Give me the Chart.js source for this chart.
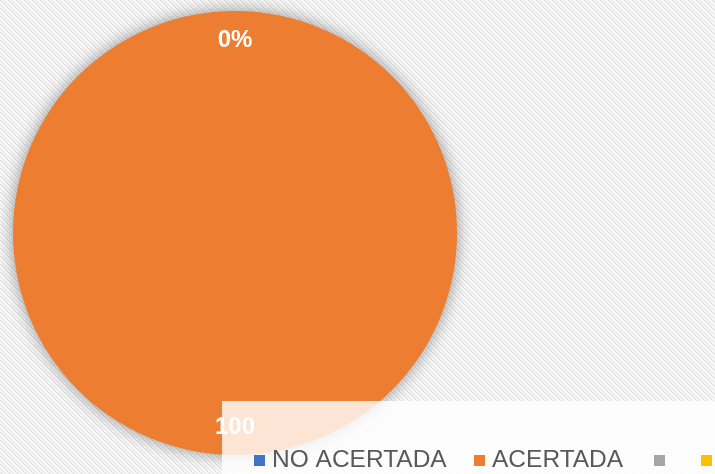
<!DOCTYPE html>
<html>
<head>
<meta charset="utf-8">
<script src="https://cdn.jsdelivr.net/npm/chart.js"></script>
<style>
  html, body { margin: 0; padding: 0; background: #ffffff; }
  #wrap { width: 715px; height: 474px; position: relative; }
</style>
</head>
<body>
<div id="wrap"><canvas id="pie_Chart" width="715" height="474"></canvas></div>
<script>
// data
var labels = ['NO ACERTADA', 'ACERTADA', '', ''];
var values = [0, 100, 0, 0];
var pctLabels = ['0%', '100', '0%', '0%'];
var colors = ['#4472C4', '#ED7D31', '#A5A5A5', '#FFC000'];

// carbon-like diagonal texture for the background
function makePattern(ctx) {
  var c = document.createElement('canvas');
  c.width = 8; c.height = 8;
  var p = c.getContext('2d');
  p.fillStyle = '#f8f8f8';
  p.fillRect(0, 0, 8, 8);
  p.fillStyle = '#e3e3e3';
  for (var i = 0; i < 8; i++) {
    p.fillRect(i, i, 2, 1);
    p.fillRect((i + 4) % 8, i, 1, 1);
  }
  return ctx.createPattern(c, 'repeat');
}

var bgPlugin = {
  id: 'bgTexture',
  beforeDraw: function(chart) {
    var ctx = chart.ctx;
    ctx.save();
    ctx.fillStyle = makePattern(ctx);
    ctx.fillRect(0, 0, chart.width, chart.height);
    ctx.restore();
  },
  beforeDatasetsDraw: function(chart) {
    var ctx = chart.ctx;
    ctx.save();
    ctx.shadowColor = 'rgba(0,0,0,0.4)';
    ctx.shadowBlur = 16;
  },
  afterDatasetsDraw: function(chart) {
    var ctx = chart.ctx;
    ctx.restore();

    // semi transparent legend panel
    ctx.save();
    ctx.fillStyle = 'rgba(255,255,255,0.8)';
    ctx.fillRect(222, 401, chart.width - 222, chart.height - 401);
    ctx.restore();

    // slice labels
    var meta = chart.getDatasetMeta(0);
    ctx.save();
    ctx.font = 'bold 24px "Liberation Sans", Arial, sans-serif';
    ctx.fillStyle = '#ffffff';
    ctx.textAlign = 'center';
    ctx.textBaseline = 'middle';
    var done = {};
    meta.data.forEach(function(arc, i) {
      var mid = (arc.startAngle + arc.endAngle) / 2;
      var r = arc.outerRadius * 0.87;
      var x = arc.x + Math.cos(mid) * r;
      var y = arc.y + Math.sin(mid) * r;
      var key = Math.round(x) + ',' + Math.round(y);
      if (done[key]) return;
      done[key] = true;
      ctx.fillText(pctLabels[i], x, y + 1);
    });
    ctx.restore();

    // legend
    var xs = [254, 474, 654, 701];
    ctx.save();
    ctx.font = '24.5px "Liberation Sans", Arial, sans-serif';
    ctx.textBaseline = 'alphabetic';
    ctx.textAlign = 'left';
    labels.forEach(function(lb, i) {
      ctx.fillStyle = colors[i];
      ctx.fillRect(xs[i], 455, 11, 11);
      ctx.fillStyle = '#595959';
      ctx.fillText(lb, xs[i] + 18, 467);
    });
    ctx.restore();
  }
};

var ctx_pie = document.getElementById('pie_Chart').getContext('2d');
var myChartPie = new Chart(ctx_pie, {
  type: 'pie',
  data: {
    labels: labels,
    datasets: [{
      data: values,
      backgroundColor: colors,
      borderWidth: 0
    }]
  },
  options: {
    responsive: false,
    animation: false,
    events: [],
    layout: { padding: { left: 13, top: 11, right: 258, bottom: 19 } },
    plugins: {
      legend: { display: false },
      tooltip: { enabled: false }
    }
  },
  plugins: [bgPlugin]
});
</script>
</body>
</html>
